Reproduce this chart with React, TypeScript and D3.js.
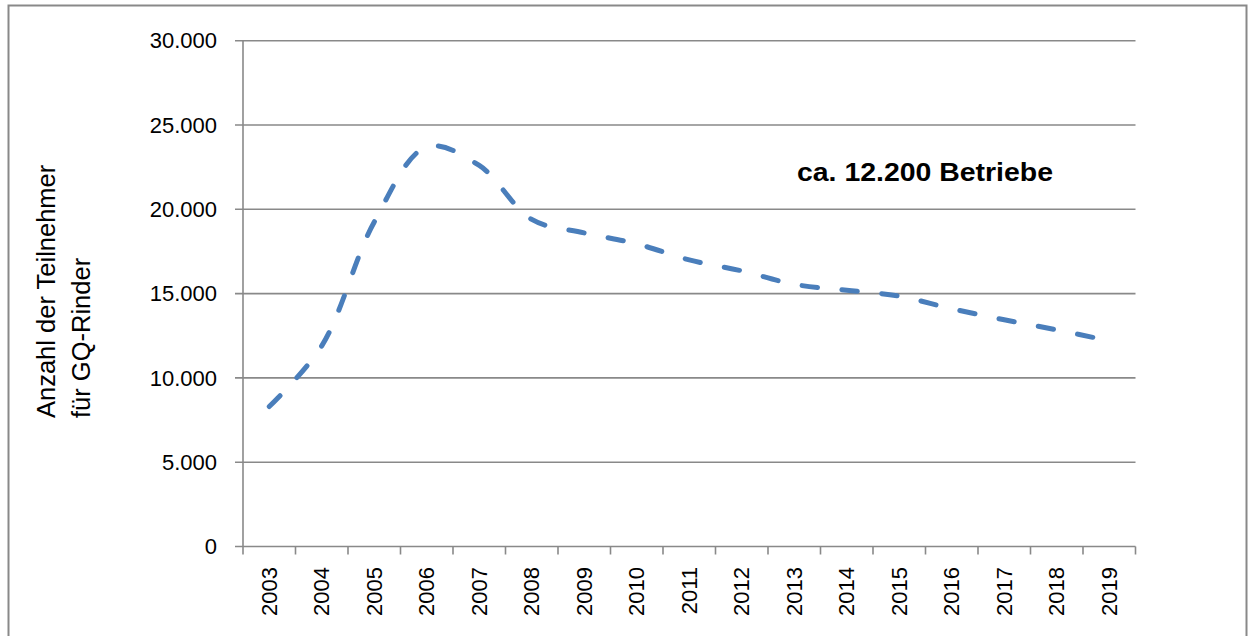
import React, { useRef, useEffect } from "react";
import * as d3 from "d3";

const years = ['2003', '2004', '2005', '2006', '2007', '2008', '2009', '2010', '2011',
  '2012', '2013', '2014', '2015', '2016', '2017', '2018', '2019'];
const teilnehmer = [8300, 11900, 19250, 23700, 22600, 19400, 18600, 17950, 17000,
  16350, 15550, 15200, 14850, 14100, 13450, 12850, 12200];
const yTicks = [0, 5000, 10000, 15000, 20000, 25000, 30000];
const yTickLabels = ['0', '5.000', '10.000', '15.000', '20.000', '25.000', '30.000'];
const axisTitle = ['Anzahl der Teilnehmer', 'für GQ-Rinder'];
const note = 'ca. 12.200 Betriebe';

const App = () => {
  const chart = useRef<SVGSVGElement>(null);

  useEffect(() => {
    const svg = d3.select(chart.current);
    svg.selectAll('*').remove();

    const grey = '#898989';
    const left = 243, right = 1135.5, top = 40.7, bottom = 546.5;

    const x = d3.scaleBand().domain(years).range([left, right]).padding(0);
    const y = d3.scaleLinear().domain([0, 30000]).range([bottom, top]);

    // outer frame
    svg.append('rect')
      .attr('x', 8.5).attr('y', 5.5)
      .attr('width', 1238).attr('height', 700)
      .attr('fill', 'white')
      .attr('stroke', grey).attr('stroke-width', 2);

    // grid + y ticks
    const g = svg.append('g');
    g.selectAll('line.grid')
      .data(yTicks)
      .join('line')
        .attr('class', 'grid')
        .attr('x1', left - 8).attr('x2', right)
        .attr('y1', d => y(d)).attr('y2', d => y(d))
        .attr('stroke', grey).attr('stroke-width', 1.6);

    g.selectAll('text.ylab')
      .data(yTicks)
      .join('text')
        .attr('class', 'ylab')
        .attr('x', 217).attr('y', d => y(d))
        .attr('dy', '0.35em')
        .attr('text-anchor', 'end')
        .style('font-family', '"Liberation Sans", Arial, sans-serif')
        .style('font-size', '22px')
        .attr('fill', '#000')
        .text((d, i) => yTickLabels[i]);

    // y axis line
    g.append('line')
      .attr('x1', left).attr('x2', left)
      .attr('y1', top).attr('y2', bottom)
      .attr('stroke', grey).attr('stroke-width', 1.6);

    // x ticks at band edges
    const edges = years.map(d => x(d) as number).concat([right]);
    g.selectAll('line.xtick')
      .data(edges)
      .join('line')
        .attr('class', 'xtick')
        .attr('x1', d => d).attr('x2', d => d)
        .attr('y1', bottom).attr('y2', bottom + 8)
        .attr('stroke', grey).attr('stroke-width', 1.6);

    g.selectAll('text.xlab')
      .data(years)
      .join('text')
        .attr('class', 'xlab')
        .attr('transform', d => `translate(${(x(d) as number) + x.bandwidth() / 2},567) rotate(-90)`)
        .attr('dy', '0.35em')
        .attr('text-anchor', 'end')
        .style('font-family', '"Liberation Sans", Arial, sans-serif')
        .style('font-size', '22px')
        .attr('fill', '#000')
        .text(d => d);

    // axis title
    const title = g.append('text')
      .attr('transform', 'translate(0,418) rotate(-90)')
      .style('font-family', '"Liberation Sans", Arial, sans-serif')
      .style('font-size', '25.5px')
      .attr('fill', '#000');
    title.selectAll('tspan')
      .data(axisTitle)
      .join('tspan')
        .attr('x', 0)
        .attr('y', (d, i) => 55 + i * 35)
        .text(d => d);

    // data line
    const line = d3.line<number>()
      .x((d, i) => (x(years[i]) as number) + x.bandwidth() / 2)
      .y(d => y(d))
      .curve(d3.curveCatmullRom.alpha(0.5));

    g.append('path')
      .attr('d', line(teilnehmer))
      .attr('fill', 'none')
      .attr('stroke', '#4a7ebb')
      .attr('stroke-width', 5)
      .attr('stroke-linecap', 'round')
      .attr('stroke-dasharray', '15.5,24.5');

    // note
    g.append('text')
      .attr('x', 797).attr('y', 181)
      .style('font-family', '"Liberation Sans", Arial, sans-serif')
      .style('font-size', '26px')
      .style('font-weight', 'bold')
      .attr('textLength', 256)
      .attr('lengthAdjust', 'spacingAndGlyphs')
      .attr('fill', '#000')
      .text(note);
  });

  return (
    <div>
      <svg ref={chart} width={1250} height={636}
        style={{ position: 'absolute', left: 0, top: 0 }}></svg>
    </div>
  );
};

export default App;
